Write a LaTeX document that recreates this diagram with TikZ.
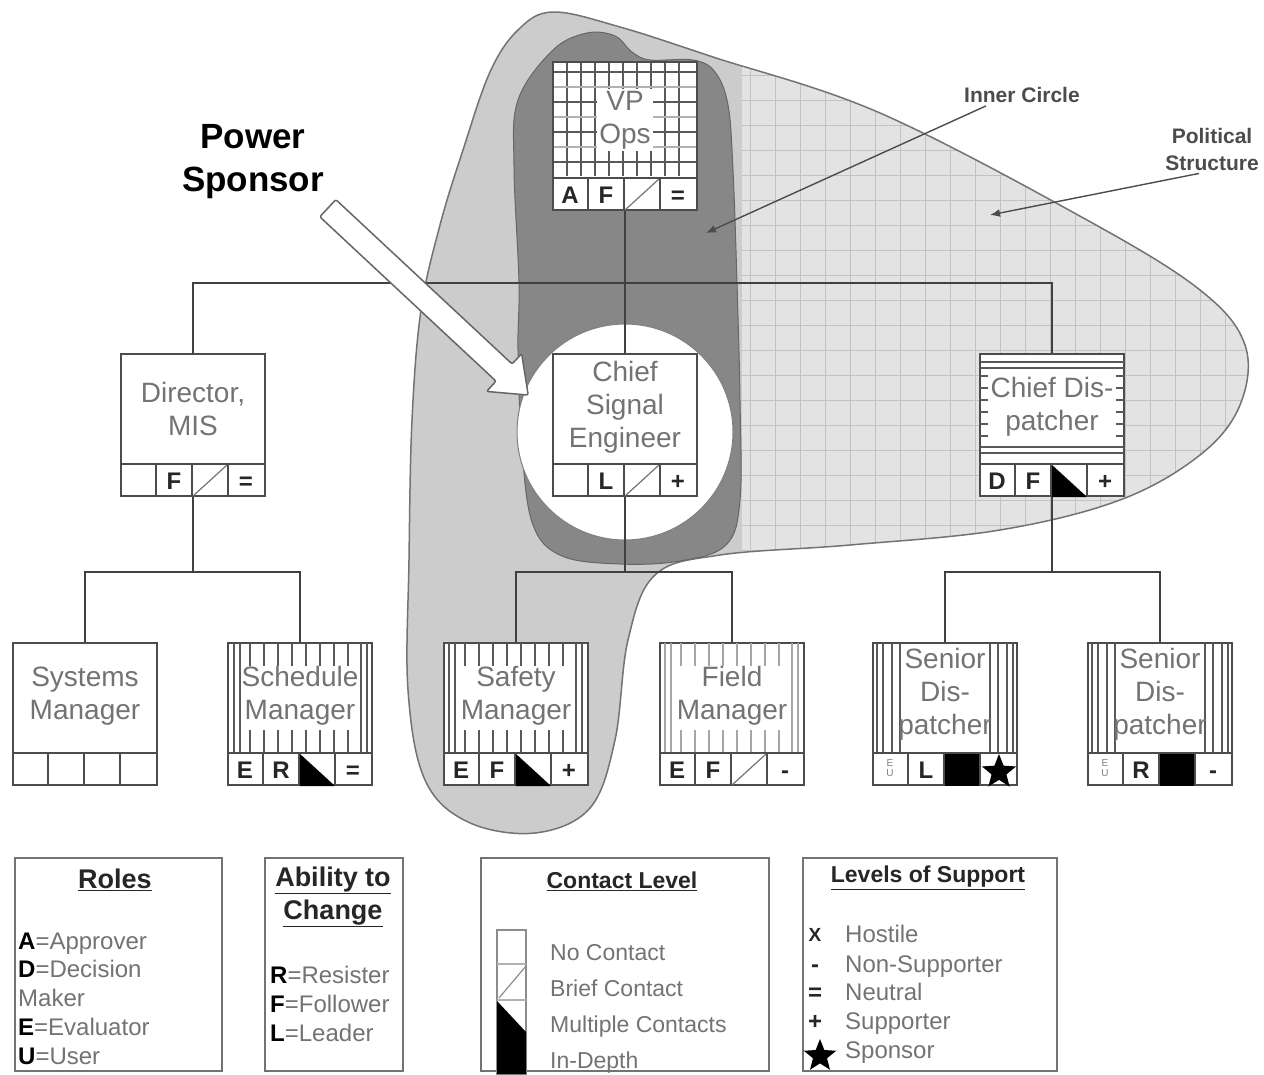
\documentclass[tikz,border=0pt]{standalone}
\usepackage{fontspec}
\setmainfont{Liberation Sans}
\usetikzlibrary{arrows.meta,shapes.geometric,shapes.arrows}
\tikzstyle{rolebox}=[draw=black!70, line width=2pt, fill=white, minimum width=144pt, minimum height=142pt, inner sep=0]
\tikzstyle{boxlbl}=[text=black!55, font=\fontsize{28}{33}\selectfont, align=center, inner sep=0]
\tikzstyle{celltxt}=[text=black!85, font=\fontsize{24}{24}\selectfont\bfseries, inner sep=0, text height=17pt, text depth=0pt]
\tikzstyle{boxline}=[draw=black!70, line width=2pt]
\tikzstyle{hatch}=[draw=black!65, line width=1.4pt]
\tikzstyle{link}=[draw=black!75, line width=1.6pt]
\tikzstyle{legbox}=[draw=black!55, line width=2pt, fill=white, anchor=north west, inner sep=0]
\tikzstyle{legtitle}=[text=black!85, font=\fontsize{27}{33}\selectfont\bfseries, align=center, inner sep=0]
\tikzstyle{legtxt}=[text=black!55, font=\fontsize{24}{29}\selectfont, anchor=base west, inner sep=0]
\tikzstyle{pointer}=[draw=black!70, line width=1.4pt, -{Latex[length=10pt,width=8pt]}]
\tikzstyle{starmark}=[star, star points=5, star point ratio=2.3, fill=black, inner sep=0]

% outlines of the political structure and the inner circle
\newcommand{\polblob}{plot[smooth cycle, tension=0.6] coordinates {(553,12) (620,27) (713,57) (880,113) (1087,220) (1200,290) (1245,345) (1240,405) (1200,455) (1120,500) (1000,530) (850,545) (720,555) (655,575) (628,640) (615,740) (590,808) (535,833) (468,822) (425,780) (408,690) (409,560) (412,420) (421,310) (440,225) (463,150) (490,72) (518,30)}}
\newcommand{\innerblob}{plot[smooth cycle, tension=0.6] coordinates {(553,50) (587,33) (615,36) (632,52) (650,60) (693,60) (715,72) (728,105) (733,170) (737,283) (740,400) (740,500) (726,545) (680,561) (620,564) (562,556) (533,525) (522,450) (518,350) (519,283) (514,167) (518,100)}}

% contact level marks in the third cell
\newcommand{\cnone}[1]{}
\newcommand{\cbrief}[1]{\draw[black!55, line width=1.2pt] ([xshift=73pt,yshift=1pt]#1.south west) -- ([xshift=107pt,yshift=32pt]#1.south west);}
\newcommand{\cmulti}[1]{\fill[black] ([xshift=72pt,yshift=33pt]#1.south west) -- ([xshift=72pt]#1.south west) -- ([xshift=108pt]#1.south west) -- cycle;}
\newcommand{\cdepth}[1]{\fill[black] ([xshift=72pt]#1.south west) rectangle ([xshift=108pt,yshift=33pt]#1.south west);}
\newcommand{\cellrow}[5]{%
  #4{#1}
  \draw[boxline] ([yshift=33pt]#1.south west) -- ([yshift=33pt]#1.south east);
  \foreach \k in {1,2,3}
    \draw[boxline] ([xshift=\k*36pt,yshift=33pt]#1.south west) -- ([xshift=\k*36pt]#1.south west);
  \node[celltxt] at ([xshift=18pt,yshift=16.5pt]#1.south west) {#2};
  \node[celltxt] at ([xshift=54pt,yshift=16.5pt]#1.south west) {#3};
  \node[celltxt] at ([xshift=126pt,yshift=16.5pt]#1.south west) {#5};
}
\newcommand{\tickbox}[2]{%
  \foreach \d in {5,11,132,138} \draw[#2, line width=1.4pt] (#1+\d,643) -- (#1+\d,752);
  \foreach \d in {21,35,...,119} {
    \draw[#2, line width=1.4pt] (#1+\d,643) -- (#1+\d,666);
    \draw[#2, line width=1.4pt] (#1+\d,730) -- (#1+\d,752);}
}
\newcommand{\stripbox}[1]{\foreach \d in {4,10,19,27,117,125,134,140} \draw[hatch] (#1+\d,643) -- (#1+\d,752);}
\newcommand{\euhint}{\raisebox{2pt}{\fontsize{10}{11}\selectfont\mdseries\color{black!50}\shortstack{E\\U}}}

\begin{document}
\begin{tikzpicture}[x=1pt, y=-1pt]
\useasboundingbox (0,0) rectangle (1264,1074);

% political structure
\begin{scope}
\clip \polblob;
\fill[black!20] (0,0) rectangle (1264,1074);
\fill[black!11] (742,0) rectangle (1264,700);
\draw[black!24, line width=1pt, step=25pt] (742,700) grid (1264,0);
\end{scope}
\draw[black!55, line width=1.5pt] \polblob;
\fill[black!47, draw=black!60, line width=1pt] \innerblob;
\fill[white, draw=black!50, line width=1pt] (625,432) circle[radius=108];

% people
\node[rolebox, minimum height=148pt] (vp) at (625,136) {};
\node[rolebox] (dirmis) at (193,425) {};
\node[rolebox] (chsig) at (625,425) {};
\node[rolebox] (chdisp) at (1052,425) {};
\node[rolebox] (sysmgr) at (85,714) {};
\node[rolebox] (schmgr) at (300,714) {};
\node[rolebox] (safmgr) at (516,714) {};
\node[rolebox] (fldmgr) at (732,714) {};
\node[rolebox] (sendisA) at (945,714) {};
\node[rolebox] (sendisB) at (1160,714) {};

% reporting lines
\coordinate (topbus) at (625,283);
\coordinate (busmis) at (193,572);
\coordinate (bussig) at (625,572);
\coordinate (busdisp) at (1052,572);
\draw[link] (vp.south) -- (chsig.north);
\draw[link] (dirmis.north) |- (topbus) -| (chdisp.north);
\draw[link] (dirmis.south) -- (busmis);
\draw[link] (sysmgr.north) |- (busmis) -| (schmgr.north);
\draw[link] (chsig.south) -- (bussig);
\draw[link] (safmgr.north) |- (bussig) -| (fldmgr.north);
\draw[link] (chdisp.south) -- (busdisp);
\draw[link] (sendisA.north) |- (busdisp) -| (sendisB.north);

% box fillings
\foreach \x in {567,581,...,683} \draw[hatch] (\x,63) -- (\x,176);
\foreach \y in {72,102,132,162} \draw[hatch] (554,\y) -- (696,\y);
\foreach \y in {87,117,147} \draw[black!30, line width=1.4pt] (554,\y) -- (696,\y);
\foreach \y in {362,368,447,453} \draw[hatch] (981,\y) -- (1124,\y);
\foreach \y in {376,388,...,436} {
  \draw[hatch] (980,\y) -- (988,\y);
  \draw[hatch] (1116,\y) -- (1124,\y);}
\tickbox{229}{black!65}
\tickbox{444}{black!65}
\tickbox{660}{black!35}
\stripbox{873}
\stripbox{1088}

% names
\node[boxlbl, fill=white, inner sep=2pt] (vplbl) at ([yshift=16pt]vp) {VP\\Ops};
\node[boxlbl] (dirmislbl) at ([yshift=16pt]dirmis) {Director,\\MIS};
\node[boxlbl] (chsiglbl) at ([yshift=18pt]chsig) {Chief\\Signal\\Engineer};
\node[boxlbl] (chdisplbl) at ([yshift=18pt]chdisp) {Chief Dis-\\patcher};
\node[boxlbl] (sysmgrlbl) at ([yshift=18pt]sysmgr) {Systems\\Manager};
\node[boxlbl] (schmgrlbl) at ([yshift=18pt]schmgr) {Schedule\\Manager};
\node[boxlbl] (safmgrlbl) at ([yshift=18pt]safmgr) {Safety\\Manager};
\node[boxlbl] (fldmgrlbl) at ([yshift=18pt]fldmgr) {Field\\Manager};
\node[boxlbl] (sendisAlbl) at ([yshift=20pt]sendisA) {Senior\\Dis-\\patcher};
\node[boxlbl] (sendisBlbl) at ([yshift=20pt]sendisB) {Senior\\Dis-\\patcher};

% role / ability / contact / support
\cellrow{vp}{A}{F}{\cbrief}{=}
\cellrow{dirmis}{}{F}{\cbrief}{=}
\cellrow{chsig}{}{L}{\cbrief}{+}
\cellrow{chdisp}{D}{F}{\cmulti}{+}
\cellrow{sysmgr}{}{}{\cnone}{}
\cellrow{schmgr}{E}{R}{\cmulti}{=}
\cellrow{safmgr}{E}{F}{\cmulti}{+}
\cellrow{fldmgr}{E}{F}{\cbrief}{-}
\cellrow{sendisA}{\euhint}{L}{\cdepth}{}
\cellrow{sendisB}{\euhint}{R}{\cdepth}{-}
\node[starmark, minimum size=36pt] (starA) at ([xshift=127pt,yshift=14pt]sendisA.south west) {};

% power sponsor
\node[single arrow, draw=black!60, fill=white, line width=1.5pt, minimum height=274pt,
  inner sep=11pt, single arrow head extend=14pt, single arrow tip angle=76,
  rounded corners=2pt, rotate=-43] (sponsorarrow) at (422.5,296.5) {};
\node[font=\fontsize{35}{43}\selectfont\bfseries, align=center, inner sep=0] (pwrlbl) at (253,162) {Power\\Sponsor};

% pointers
\node[font=\fontsize{21}{26}\selectfont\bfseries, text=black!70, inner sep=0] (innerlbl) at (1022,95) {Inner Circle};
\coordinate (innertip) at (706,233);
\draw[pointer] ([xshift=22pt,yshift=-3pt]innerlbl.south west) -- (innertip);
\node[font=\fontsize{21}{27}\selectfont\bfseries, text=black!70, align=center, inner sep=0] (pollbl) at (1212,149) {Political\\Structure};
\coordinate (poltip) at (990,215);
\draw[pointer] ([xshift=34pt,yshift=-3pt]pollbl.south west) -- (poltip);

% legends
\node[legbox, minimum width=207pt, minimum height=213pt] (roles) at (14,857) {};
\node[legtitle] at (115,880) {\underline{Roles}};
\node[legtxt] at (18,949) {{\color{black}\textbf{A}}=Approver};
\node[legtxt] at (18,977) {{\color{black}\textbf{D}}=Decision};
\node[legtxt] at (18,1006) {Maker};
\node[legtxt] at (18,1035) {{\color{black}\textbf{E}}=Evaluator};
\node[legtxt] at (18,1064) {{\color{black}\textbf{U}}=User};

\node[legbox, minimum width=138pt, minimum height=213pt] (ability) at (264,857) {};
\node[legtitle] at (333,897) {\underline{Ability to}\\\underline{Change}};
\node[legtxt] at (270,983) {{\color{black}\textbf{R}}=Resister};
\node[legtxt] at (270,1012) {{\color{black}\textbf{F}}=Follower};
\node[legtxt] at (270,1041) {{\color{black}\textbf{L}}=Leader};

\node[legbox, minimum width=288pt, minimum height=213pt] (contact) at (480,857) {};
\node[legtitle, font=\fontsize{23}{28}\selectfont\bfseries] at (622,881) {\underline{Contact Level}};
\draw[black!45, line width=1.5pt] (497,930) rectangle (526,1074);
\draw[black!30, line width=1.5pt] (497,964) -- (526,964);
\draw[black!30, line width=1.5pt] (497,1000) -- (526,1000);
\draw[black!45, line width=1.2pt] (526,966) -- (499,998);
\fill[black] (497,1001) -- (526,1032) -- (526,1074) -- (497,1074) -- cycle;
\node[legtxt, font=\fontsize{23}{28}\selectfont] at (550,960) {No Contact};
\node[legtxt, font=\fontsize{23}{28}\selectfont] at (550,996) {Brief Contact};
\node[legtxt, font=\fontsize{23}{28}\selectfont] at (550,1032) {Multiple Contacts};
\node[legtxt, font=\fontsize{23}{28}\selectfont] at (550,1068) {In-Depth};

\node[legbox, minimum width=254pt, minimum height=213pt] (support) at (802,857) {};
\node[legtitle, font=\fontsize{23}{28}\selectfont\bfseries] at (928,878) {\underline{Levels of Support}};
\node[celltxt, font=\fontsize{19}{19}\selectfont\bfseries, text height=14pt] at (815,934) {X};
\node[celltxt] at (815,964) {-};
\node[celltxt] at (815,992) {=};
\node[celltxt] at (815,1021) {+};
\node[starmark, minimum size=34pt] (starleg) at (820,1056) {};
\node[legtxt] at (845,942) {Hostile};
\node[legtxt] at (845,972) {Non-Supporter};
\node[legtxt] at (845,1000) {Neutral};
\node[legtxt] at (845,1029) {Supporter};
\node[legtxt] at (845,1058) {Sponsor};
\end{tikzpicture}
\end{document}
